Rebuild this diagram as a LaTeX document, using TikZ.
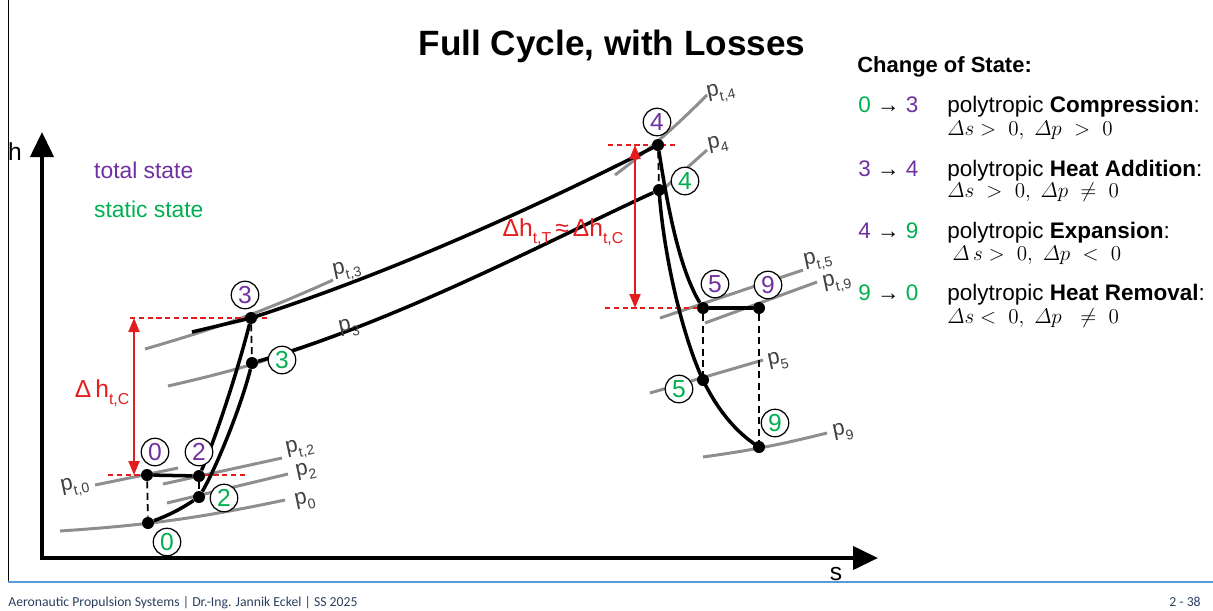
\documentclass[tikz,border=0pt]{standalone}
\usepackage{amsmath}
\usepackage{fontspec}
\setmainfont{Liberation Sans}
\newfontfamily\footfont{Carlito}
\usetikzlibrary{arrows.meta,positioning,backgrounds}
\definecolor{cyctot}{HTML}{7030A0}
\definecolor{cycstat}{HTML}{00B050}
\definecolor{cycred}{HTML}{E31D1D}
\definecolor{cycgray}{HTML}{8E8E8E}
\definecolor{cycrule}{HTML}{5B9BD5}
\definecolor{cycfoot}{HTML}{2A3F5F}
\newcommand{\fsz}[1]{\fontsize{#1}{#1}\selectfont}
\newcommand{\psub}[3][8]{#2\raisebox{-0.5ex}{\fsz{#1}#3}}
\tikzset{
  dot/.style={circle, fill=black, inner sep=0pt, minimum size=2.4mm},
  tag/.style={circle, draw=black, line width=0.7pt, fill=white, inner sep=0pt, minimum size=5.5mm, font=\fsz{14}},
  ttag/.style={tag, text=cyctot},
  stag/.style={tag, text=cycstat},
  cyc/.style={line width=2pt},
  iso/.style={cycgray, line width=1.7pt},
  plbl/.style={font=\fsz{12.5}, text=black!75, inner sep=0pt, rotate=12},
  drop/.style={dash pattern=on 4pt off 2.5pt, line width=1pt},
  lvl/.style={cycred, dash pattern=on 3pt off 2pt, line width=0.9pt},
  dh/.style={{Triangle[length=2.8mm,width=2.2mm]}-{Triangle[length=2.8mm,width=2.2mm]}, cycred, line width=1.1pt},
  ax/.style={{Triangle[length=5mm,width=4.6mm]}-{Triangle[length=5mm,width=4.6mm]}, line width=2.3pt},
  chg/.style={anchor=base west, inner sep=0pt, font=\fsz{12.8}},
  mrow/.style={anchor=base west, inner sep=0pt, font=\fsz{13}},
}

\begin{document}
\begin{tikzpicture}[x=0.02cm, y=-0.02cm]
  \useasboundingbox (0,0) rectangle (1213,610);
  % slide frame, footer, title
  \draw[line width=0.5pt] (8,0) -- (8,582);
  \draw[cycrule, line width=0.9pt] (8,582) -- (1213,582);
  \node[anchor=base west, inner sep=0pt, text=cycfoot, font=\footfont\fsz{7.8}] (foot) at (8,606) {Aeronautic Propulsion Systems | Dr.-Ing. Jannik Eckel | SS 2025};
  \node[anchor=base east, inner sep=0pt, text=cycfoot, font=\footfont\fsz{7.8}] (page) at (1201,606) {2 - 38};
  \node[font=\bfseries\fsz{20}] (title) at (612,46) {Full Cycle, with Losses};

  % axes
  \coordinate (htip) at (42,132);
  \coordinate (org) at (42,558);
  \coordinate (stip) at (878,558);
  \draw[ax] (htip) -- (org) -- (stip);
  \node[font=\fsz{14}] (hlbl) at (15,152) {h};
  \node[font=\fsz{14}] (slbl) at (836,574) {s};
  \node[anchor=west, text=cyctot, font=\fsz{13}] (ltot) at (88,170) {total state};
  \node[anchor=west, text=cycstat, font=\fsz{13}] (lstat) at (88,209) {static state};

  % state points
  \node[dot] (t0) at (147,475) {};
  \node[dot] (s0) at (148,523) {};
  \node[dot] (t2) at (199,476) {};
  \node[dot] (s2) at (199,497) {};
  \node[dot] (t3) at (251,318) {};
  \node[dot] (s3) at (252,363) {};
  \node[dot] (t4) at (658,145) {};
  \node[dot] (s4) at (659,190) {};
  \node[dot] (t5) at (703,308) {};
  \node[dot] (t9) at (759,308) {};
  \node[dot] (s5) at (703,380) {};
  \node[dot] (s9) at (759,447) {};

  \node[ttag] (lt0) at (155,452) {0};
  \node[stag] (ls0) at (167,542) {0};
  \node[ttag] (lt2) at (199,452) {2};
  \node[stag] (ls2) at (224,498) {2};
  \node[ttag] (lt3) at (245,295) {3};
  \node[stag] (ls3) at (282,360) {3};
  \node[ttag] (lt4) at (657,122) {4};
  \node[stag] (ls4) at (685,181) {4};
  \node[ttag] (lt5) at (715,284) {5};
  \node[ttag] (lt9) at (768,285) {9};
  \node[stag] (ls5) at (679,389) {5};
  \node[stag] (ls9) at (775,423) {9};

  \begin{scope}[on background layer]
    % isobars
    \draw[iso] (95,485) -- (178,468);
    \draw[iso] (60,531) to[bend right=4] (285,500);
    \draw[iso] (163,484) -- (282,458);
    \draw[iso] (167,503) -- (288,474);
    \draw[iso] (145,349) to[bend right=4] (333,280);
    \draw[iso] (168,386) to[bend right=4] (337,335);
    \draw[iso] (615,175) to[bend right=4] (707,95);
    \draw[iso] (660,192) -- (707,150);
    \draw[iso] (660,318) -- (803,270);
    \draw[iso] (705,323) -- (817,282);
    \draw[iso] (650,393) -- (763,360);
    \draw[iso] (703,457) to[bend right=3] (827,433);

    % enthalpy levels
    \draw[lvl] (t0.center) ++(-39,0) -- ++(137,0);
    \draw[lvl] (t3.center) ++(-121,0) -- ++(140,0);
    \draw[lvl] (t4.center) ++(-50,0) -- ++(67,0);
    \draw[lvl] (t5.center) ++(-98,0) -- ++(95,0);

    % cycle
    \coordinate (t3a) at (192,332);
    \draw[cyc] (t0) -- (t2);
    \draw[cyc] (s0) to[bend right=6] (s2);
    \draw[cyc] (t2) .. controls (215,440) and (238,370) .. (t3);
    \draw[cyc] (s2) .. controls (215,470) and (240,410) .. (s3);
    \draw[cyc] (t3a) -- (t3.center) .. controls (400,270) and (550,200) .. (t4.center);
    \draw[cyc] (s3) .. controls (400,320) and (550,240) .. (s4);
    \draw[cyc] (t4) .. controls (668,210) and (680,270) .. (t5);
    \draw[cyc] (t5) -- (t9);
    \draw[cyc] (s4.center) .. controls (664,260) and (684,340) .. (s5.center) .. controls (720,415) and (740,435) .. (s9.center);
    \draw[drop] (t0) -- (s0);
    \draw[drop] (t2) -- (s2);
    \draw[drop] (t3) -- (s3);
    \draw[drop] (t4) -- (s4);
    \draw[drop] (t5) -- (s5);
    \draw[drop] (t9) -- (s9);
  \end{scope}

  \node[plbl] (lpt0) at (75,487) {\psub{p}{t,0}};
  \node[plbl] (lp0) at (305,501) {\psub{p}{0}};
  \node[plbl] (lpt2) at (300,449) {\psub{p}{t,2}};
  \node[plbl] (lp2) at (306,471) {\psub{p}{2}};
  \node[plbl] (lpt3) at (347,271) {\psub{p}{t,3}};
  \node[plbl] (lp3) at (349,328) {\psub{p}{3}};
  \node[plbl] (lpt4) at (721,93) {\psub{p}{t,4}};
  \node[plbl] (lp4) at (718,144) {\psub{p}{4}};
  \node[plbl] (lpt5) at (818,261) {\psub{p}{t,5}};
  \node[plbl] (lpt9) at (837,283) {\psub{p}{t,9}};
  \node[plbl] (lp5) at (778,361) {\psub{p}{5}};
  \node[plbl] (lp9) at (843,432) {\psub{p}{9}};

  % enthalpy differences
  \coordinate (dC) at (134,0);
  \coordinate (dT) at (635,0);
  \draw[dh] (t3 -| dC) -- (t0 -| dC);
  \draw[dh] (t4 -| dT) -- (t5 -| dT);
  \node[text=cycred, font=\fsz{14}] (dhc) at (102,393) {\psub[9]{Δ\,h}{t,C}};
  \node[text=cycred, font=\fsz{14}] (dht) at (563,232) {\psub[9]{Δh}{t,T}\,≈\,\psub[9]{Δh}{t,C}};

  % change of state
  \node[anchor=base west, inner sep=0pt, font=\bfseries\fsz{12.5}] (chgt) at (857,72) {Change of State:};
  \node[chg] (n03) at (858,112) {\textcolor{cycstat}{0} → \textcolor{cyctot}{3}};
  \node[chg] (c03) at (947,112) {polytropic \textbf{Compression}:};
  \node[mrow] (m03) at (947,135) {$\varDelta s >\ 0,\ \varDelta p\ >\ 0$};
  \node[chg] (n34) at (858,176) {\textcolor{cyctot}{3} → \textcolor{cyctot}{4}};
  \node[chg] (c34) at (947,176) {polytropic \textbf{Heat Addition}:};
  \node[mrow] (m34) at (947,197) {$\varDelta s\ >\ 0,\ \varDelta p\ \neq\ 0$};
  \node[chg] (n49) at (858,238) {\textcolor{cyctot}{4} → \textcolor{cycstat}{9}};
  \node[chg] (c49) at (947,238) {polytropic \textbf{Expansion}:};
  \node[mrow] (m49) at (952,260) {$\varDelta\, s > \ 0,\ \varDelta p\ <\ 0$};
  \node[chg] (n90) at (858,300) {\textcolor{cycstat}{9} → \textcolor{cycstat}{0}};
  \node[chg] (c90) at (947,300) {polytropic \textbf{Heat Removal}:};
  \node[mrow] (m90) at (947,323) {$\varDelta s <\ 0,\ \varDelta p\ \ \neq\ 0$};
\end{tikzpicture}
\end{document}
